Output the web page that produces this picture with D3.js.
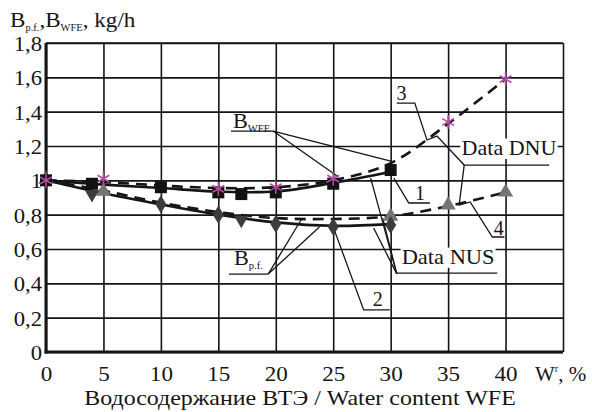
<!DOCTYPE html>
<html><head><meta charset="utf-8">
<script src="https://cdn.jsdelivr.net/npm/d3@7"></script>
<style>body{margin:0;background:#fff}svg{display:block}</style>
</head><body><svg id="c" width="592" height="412" style="font-family:'Liberation Serif','Times New Roman','DejaVu Serif',serif"></svg>
<script>
// ---------- data ----------
const xTickValues = [0, 5, 10, 15, 20, 25, 30, 35, 40];
const xTickLabels = ["0", "5", "10", "15", "20", "25", "30", "35", "40"];
const yTickValues = [0, 0.2, 0.4, 0.6, 0.8, 1.0, 1.2, 1.4, 1.6, 1.8];
const yTickLabels = ["0", "0,2", "0,4", "0,6", "0,8", "1", "1,2", "1,4", "1,6", "1,8"];

// Data NUS – B_WFE (black squares)
const nusWfeX = [0, 4, 10, 15, 17, 20, 25, 30];
const nusWfeY = [1.0, 0.98, 0.96, 0.93, 0.92, 0.93, 0.98, 1.06];
// Data NUS – B_p.f. (dark diamonds / down triangles)
const nusPfDiaX = [0, 10, 15, 20, 25, 30];
const nusPfDiaY = [1.0, 0.86, 0.80, 0.745, 0.73, 0.74];
const nusPfTriX = [4, 17];
const nusPfTriY = [0.92, 0.77];
// Data DNU – B_WFE (asterisks)
const dnuWfeX = [0, 5, 15, 20, 25, 35, 40];
const dnuWfeY = [1.0, 1.01, 0.95, 0.96, 1.01, 1.34, 1.59];
// Data DNU – B_p.f. (grey up triangles)
const dnuPfX = [0, 5, 30, 35, 40];
const dnuPfY = [1.0, 0.93, 0.785, 0.85, 0.925];

// approximation curves
const fitX = [0, 5, 10, 15, 20, 25, 30, 35, 40];
const curve1 = [1.0, 0.975, 0.955, 0.935, 0.935, 0.985, 1.05];          // solid, B_WFE NUS
const curve3 = [1.0, 0.99, 0.97, 0.955, 0.96, 1.0, 1.1, 1.33, 1.59];    // dashed, B_WFE DNU
const curve2 = [1.0, 0.925, 0.86, 0.80, 0.755, 0.735, 0.745];           // solid, B_p.f. NUS
const curve4 = [1.0, 0.94, 0.87, 0.815, 0.78, 0.775, 0.79, 0.85, 0.93]; // dashed, B_p.f. DNU

// leader lines (data units)
const leaderWfe1 = [[19.77, 1.287], [30.27, 1.107]];
const leaderWfe2 = [[19.77, 1.287], [25.46, 1.019]];
const underWfe = [[16.1, 1.287], [19.77, 1.287]];
const leader1 = [[30.27, 1.013], [31.58, 0.868], [33.42, 0.868]];
const leader3 = [[30.53, 1.45], [32.1, 1.45], [33.16, 1.235], [34.03, 1.258], [36.4, 1.089], [43.8, 1.089]];
const leader4 = [[36.4, 1.089], [35.96, 0.856], [36.92, 0.874], [38.85, 0.67], [39.9, 0.67]];
const underNus = [[30.53, 0.46], [39.28, 0.46]];
const leaderNusA = [[30.53, 0.455], [28.26, 1.013]];
const leaderNusB = [[30.53, 0.455], [29.31, 0.78]];
const leaderNusC = [[30.53, 0.455], [28.52, 0.722]];
const underPf = [[15.92, 0.454], [19.34, 0.454]];
const leaderPfA = [[19.34, 0.454], [22.2, 0.769]];
const leaderPfB = [[19.34, 0.454], [23.8, 0.728]];
const leader2 = [[25.1, 0.71], [27.65, 0.245], [29.92, 0.245]];

// ---------- drawing ----------
const FONT = "'Liberation Serif','Times New Roman','DejaVu Serif',serif";
const svg = d3.select("#c");
const x = d3.scaleLinear().domain([0, 45]).range([46, 563]);
const y = d3.scaleLinear().domain([0, 1.8]).range([352, 43]);
const ink = "#151515";

function T(sel, size) {
  return sel.style("font-family", FONT).style("font-size", size + "px").attr("fill", ink);
}
// horizontal stretch about the text anchor (reference type is slightly wide)
function stretch(sel, s) {
  sel.each(function () {
    const ax = +(this.getAttribute("x") || 0);
    const prev = this.getAttribute("transform") || "";
    this.setAttribute("transform", `${prev} translate(${ax},0) scale(${s},1) translate(${-ax},0)`);
  });
  return sel;
}

// grid
const gy = svg.append("g").attr("transform", `translate(${x(0)},0)`)
  .call(d3.axisLeft(y).tickValues(yTickValues).tickFormat((d, i) => yTickLabels[i])
    .tickSize(-(x(45) - x(0))).tickPadding(4));
gy.attr("font-family", null).attr("font-size", null);
gy.select(".domain").remove();
gy.selectAll(".tick line").attr("stroke", ink).attr("stroke-width", 1.6);
stretch(T(gy.selectAll(".tick text"), 21).attr("dy", "0.36em"), 1.08);

const gx = svg.append("g").attr("transform", `translate(0,${y(0)})`)
  .call(d3.axisBottom(x).tickValues(xTickValues.concat([45])).tickFormat((d, i) => xTickLabels[i] || "")
    .tickSize(-(y(0) - y(1.8))).tickPadding(14));
gx.attr("font-family", null).attr("font-size", null);
gx.select(".domain").remove();
gx.selectAll(".tick line").attr("stroke", ink).attr("stroke-width", 1.6);
stretch(T(gx.selectAll(".tick text"), 21), 1.1);

// top border
svg.append("line").attr("x1", x(0)).attr("x2", x(45)).attr("y1", y(1.8)).attr("y2", y(1.8))
  .attr("stroke", ink).attr("stroke-width", 1.6);
// axes thick
svg.append("line").attr("x1", x(0)).attr("x2", x(0)).attr("y1", y(1.8)).attr("y2", y(0) + 1.5)
  .attr("stroke", ink).attr("stroke-width", 3);
svg.append("line").attr("x1", x(0) - 1.5).attr("x2", x(45)).attr("y1", y(0)).attr("y2", y(0))
  .attr("stroke", ink).attr("stroke-width", 3);

// label with white background breaking gridlines
function boxText(tx, ty, str, size, s) {
  const t = T(svg.append("text"), size).attr("x", x(tx)).attr("y", y(ty)).attr("text-anchor", "middle").text(str);
  stretch(t, s);
  const b = t.node().getBBox();
  const w = b.width * s;
  svg.insert("rect", () => t.node()).attr("x", x(tx) - w / 2 - 1).attr("y", b.y + 2).attr("width", w + 2)
    .attr("height", b.height - 3).attr("fill", "#fff");
  return t;
}

// curves
const line = d3.line().x(d => x(d[0])).y(d => y(d[1])).curve(d3.curveCatmullRom.alpha(0.5));
function curve(vals, dashed) {
  svg.append("path").datum(vals.map((v, i) => [fitX[i], v])).attr("d", line)
    .attr("fill", "none").attr("stroke", ink).attr("stroke-width", 2.6)
    .attr("stroke-dasharray", dashed ? "11,7" : null);
}
curve(curve2, false);
curve(curve4, true);
curve(curve1, false);
curve(curve3, true);

// leaders
const pl = d3.line().x(d => x(d[0])).y(d => y(d[1]));
[leaderWfe1, leaderWfe2, underWfe, leader1, leader3, leader4, underNus, leaderNusA, leaderNusB,
 leaderNusC, underPf, leaderPfA, leaderPfB, leader2].forEach(p => {
  svg.append("path").attr("d", pl(p)).attr("fill", "none").attr("stroke", ink).attr("stroke-width", 1.3);
});

// markers
const zip = (xs, ys) => xs.map((v, i) => [v, ys[i]]);
svg.selectAll(".tu").data(zip(dnuPfX, dnuPfY)).join("path")
  .attr("transform", d => `translate(${x(d[0])},${y(d[1]) - 1})`)
  .attr("d", d3.symbol(d3.symbolTriangle, 100)()).attr("fill", "#747474");
svg.selectAll(".dia").data(zip(nusPfDiaX, nusPfDiaY)).join("path")
  .attr("transform", d => `translate(${x(d[0])},${y(d[1])})`)
  .attr("d", "M0,-9L5.5,0L0,9L-5.5,0Z").attr("fill", "#3c3c3c");
svg.selectAll(".td").data(zip(nusPfTriX, nusPfTriY)).join("path")
  .attr("transform", d => `translate(${x(d[0])},${y(d[1])}) rotate(180)`)
  .attr("d", d3.symbol(d3.symbolTriangle, 90)()).attr("fill", "#3c3c3c");
svg.selectAll(".sq").data(zip(nusWfeX, nusWfeY)).join("rect")
  .attr("x", d => x(d[0]) - 6).attr("y", d => y(d[1]) - 6).attr("width", 12).attr("height", 12)
  .attr("fill", "#111");
svg.selectAll(".ast").data(zip(dnuWfeX, dnuWfeY)).join("path")
  .attr("transform", d => `translate(${x(d[0])},${y(d[1])})`)
  .attr("d", d3.symbol(d3.symbolAsterisk, 130)()).attr("fill", "none")
  .attr("stroke", "#b04c9f").attr("stroke-width", 1.6);

// annotation texts
function subText(tx, ty, parts) {
  const t = T(svg.append("text"), 21).attr("x", x(tx)).attr("y", y(ty));
  parts.forEach(p => {
    t.append("tspan").text(p[0]).style("font-size", p[1] + "px").attr("dy", p[2] || 0);
  });
  return stretch(t, 1.06);
}
subText(16.27, 1.306, [["B", 21], ["WFE", 10, 4]]);
subText(16.36, 0.507, [["B", 21], ["p.f.", 10, 4]]);
T(svg.append("text"), 20).attr("x", x(32.55)).attr("y", y(0.885)).attr("text-anchor", "middle").text("1");
T(svg.append("text"), 20).attr("x", x(28.87)).attr("y", y(0.268)).attr("text-anchor", "middle").text("2");
T(svg.append("text"), 20).attr("x", x(30.95)).attr("y", y(1.468)).attr("text-anchor", "middle").text("3");
T(svg.append("text"), 20).attr("x", x(39.4)).attr("y", y(0.681)).attr("text-anchor", "middle").text("4");
boxText(40.3, 1.147, "Data DNU", 21, 1.05);
boxText(35.0, 0.513, "Data NUS", 21, 1.07);

// axis titles
const yt = T(svg.append("text"), 22).attr("x", 10).attr("y", 27);
yt.append("tspan").text("B").style("font-size", "22px");
yt.append("tspan").text("p.f.").style("font-size", "10px").attr("dy", 4);
yt.append("tspan").text(",B").style("font-size", "22px").attr("dy", -4);
yt.append("tspan").text("WFE").style("font-size", "10px").attr("dy", 4);
yt.append("tspan").text(", kg/h").style("font-size", "22px").attr("dy", -4);
stretch(yt, 1.05);

const xt = T(svg.append("text"), 21).attr("x", 535).attr("y", 381);
xt.append("tspan").text("W").style("font-size", "21px");
xt.append("tspan").text("r").style("font-size", "10px").attr("dy", -9);
xt.append("tspan").text(", %").style("font-size", "21px").attr("dy", 9);

stretch(T(svg.append("text"), 21).attr("x", 300).attr("y", 405).attr("text-anchor", "middle")
  .text("Водосодержание ВТЭ / Water content WFE"), 1.14);
</script></body></html>
